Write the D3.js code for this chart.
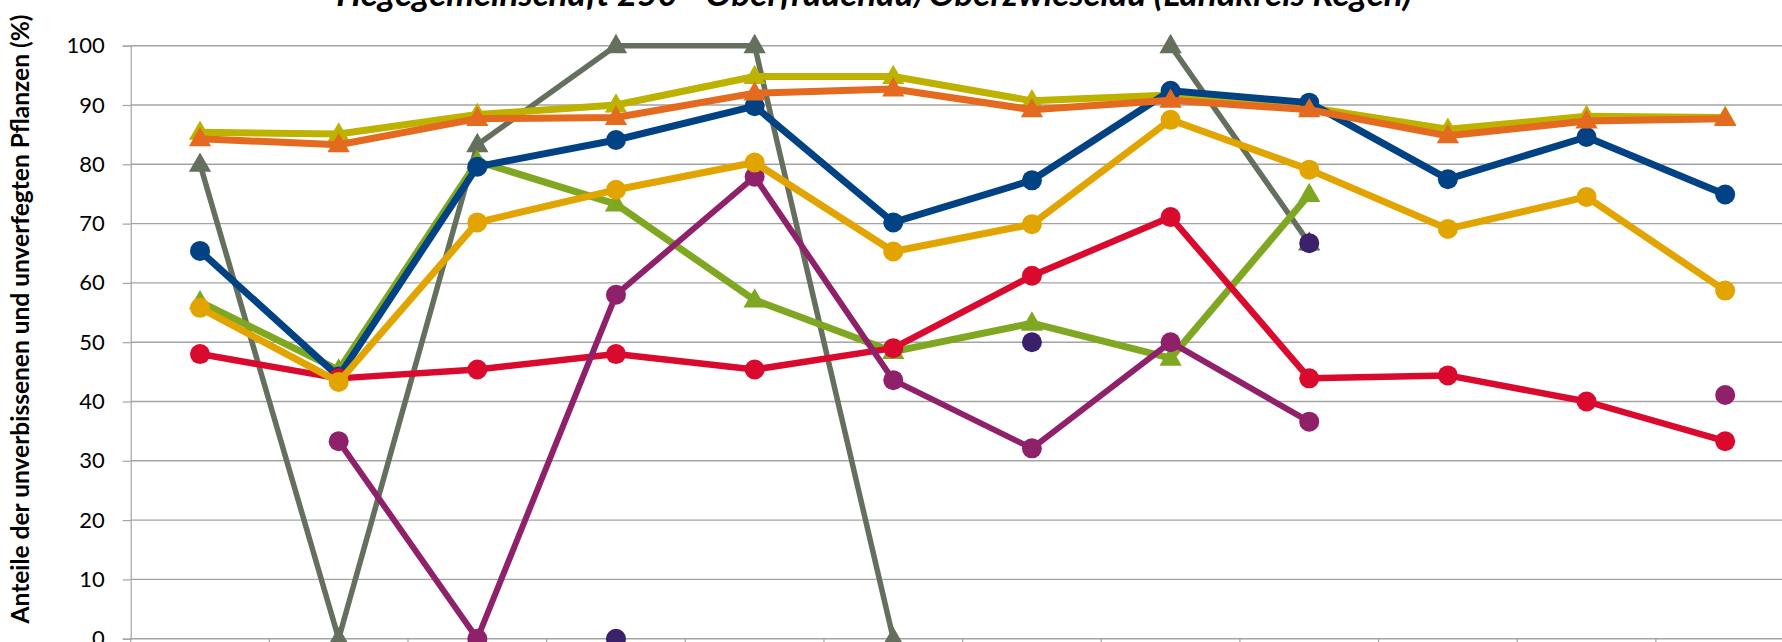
<!DOCTYPE html>
<html lang="de">
<head>
<meta charset="UTF-8">
<title>Hegegemeinschaft 250 - Oberfrauenau/Oberzwieselau</title>
<script src="https://d3js.org/d3.v7.min.js"></script>
<style>
    body { margin: 0; background: #fff; overflow: hidden; }
    svg { display: block; }
    text { font-family: Lato, "Open Sans", sans-serif; fill: #000; }
</style>
</head>
<body>
<div id="chart"></div>
<script>
    // Aufnahmejahre (Achsenbeschriftung liegt ausserhalb des Bildausschnitts)
    const years = ["1991", "1994", "1997", "2000", "2003", "2006", "2009", "2012", "2015", "2018", "2021", "2024"];
    const yTicks = [0, 10, 20, 30, 40, 50, 60, 70, 80, 90, 100];

    // Werte je Reihe in %, null = kein Wert
    const grauDreieck = [80, 0, 83.3, 100, 100, 0, null, 100, 66.7, null, null, null];
    const olivDreieck = [85.4, 85.1, 88.4, 90, 94.8, 94.8, 90.7, 91.7, 89.6, 85.9, 88.1, 87.9];
    const gruenDreieck = [56.8, 45.3, 80.5, 73.3, 57.1, 48.4, 53.2, 47.3, 74.9, null, null, null];
    const blauKreis = [65.4, 44.2, 79.6, 84.1, 89.8, 70.2, 77.3, 92.4, 90.4, 77.5, 84.6, 74.9];
    const orangeDreieck = [84.3, 83.3, 87.7, 87.9, 92, 92.7, 89.2, 90.8, 89.2, 84.8, 87.3, 87.7];
    const rotKreis = [48, 43.9, 45.4, 48, 45.4, 49, 61.2, 71.1, 43.9, 44.4, 40, 33.3];
    const violettKreis = [null, 33.3, 0, 58, 77.9, 43.6, 32.1, 50, 36.6, null, null, 41.1];
    const dunkelviolettKreis = [null, null, null, 0, null, null, 50, null, 66.7, null, null, null];
    const goldKreis = [55.8, 43.3, 70.2, 75.7, 80.3, 65.3, 69.9, 87.5, 79.1, 69.1, 74.5, 58.7];

    // Zeichenreihenfolge: spaetere liegen oben
    const series = [
        { values: grauDreieck, color: "#656f5d", marker: "triangle", width: 5.5 },
        { values: olivDreieck, color: "#bdb200", marker: "triangle", width: 7 },
        { values: gruenDreieck, color: "#80a721", marker: "triangle", width: 7 },
        { values: blauKreis, color: "#004283", marker: "circle", width: 7 },
        { values: orangeDreieck, color: "#e36a1f", marker: "triangle", width: 7 },
        { values: rotKreis, color: "#da0a2f", marker: "circle", width: 6.5 },
        { values: violettKreis, color: "#8f216a", marker: "circle", width: 6 },
        { values: dunkelviolettKreis, color: "#3b2169", marker: "circle", width: 6 },
        { values: goldKreis, color: "#e2a400", marker: "circle", width: 7 }
    ];

    const width = 1782;
    const height = 642;
    const plotLeft = 130.7;
    const plotRight = 1794.5; // Diagrammflaeche reicht ueber den Rand hinaus

    const svg = d3.select("#chart")
        .append("svg")
        .attr("width", width)
        .attr("height", height);

    const x = d3.scaleBand()
        .domain(years)
        .range([plotLeft, plotRight]);

    const y = d3.scaleLinear()
        .domain([0, 100])
        .range([638.7, 45.7]);

    const cx = d => x(d) + x.bandwidth() / 2;

    // Gitternetzlinien
    svg.append("g")
        .selectAll("line")
        .data(yTicks)
        .enter()
        .append("line")
        .attr("x1", plotLeft)
        .attr("x2", width)
        .attr("y1", d => y(d))
        .attr("y2", d => y(d))
        .attr("stroke", "#a3a3a3")
        .attr("stroke-width", 1.4);

    // Kategorie-Teilstriche an der x-Achse
    svg.append("g")
        .selectAll("line")
        .data(years)
        .enter()
        .append("line")
        .attr("x1", d => x(d))
        .attr("x2", d => x(d))
        .attr("y1", y(0))
        .attr("y2", y(0) + 8)
        .attr("stroke", "#a3a3a3")
        .attr("stroke-width", 1.2);

    // y-Achse
    const yAxis = svg.append("g")
        .attr("transform", `translate(${plotLeft},0)`)
        .call(d3.axisLeft(y).tickValues(yTicks).tickSize(8).tickPadding(18));

    yAxis.select(".domain").attr("stroke", "#a3a3a3").attr("stroke-width", 1.2);
    yAxis.selectAll(".tick line").attr("stroke", "#a3a3a3").attr("stroke-width", 1.2);
    yAxis.selectAll(".tick text")
        .attr("font-size", 22)
        .attr("font-family", "Lato, sans-serif")
        .attr("fill", "#111");

    // Linien und Markierungen
    const line = d3.line()
        .defined(d => d.v != null)
        .x(d => cx(d.year))
        .y(d => y(d.v));

    const triangle = d3.symbol(d3.symbolTriangle, 215);

    series.forEach(s => {
        const pts = years.map((year, i) => ({ year: year, v: s.values[i] }));
        const g = svg.append("g");

        g.append("path")
            .datum(pts)
            .attr("d", line)
            .attr("fill", "none")
            .attr("stroke", s.color)
            .attr("stroke-width", s.width)
            .attr("stroke-linejoin", "round");

        const valid = pts.filter(d => d.v != null);
        if (s.marker === "circle") {
            g.selectAll("circle")
                .data(valid)
                .enter()
                .append("circle")
                .attr("cx", d => cx(d.year))
                .attr("cy", d => y(d.v))
                .attr("r", 10)
                .attr("fill", s.color);
        } else {
            g.selectAll("path.m")
                .data(valid)
                .enter()
                .append("path")
                .attr("class", "m")
                .attr("d", triangle)
                .attr("transform", d => `translate(${cx(d.year)},${y(d.v) + 1})`)
                .attr("fill", s.color);
        }
    });

    // Titel (oben angeschnitten)
    svg.append("text")
        .attr("x", 874)
        .attr("y", 6)
        .attr("text-anchor", "middle")
        .attr("font-size", 35)
        .attr("font-weight", "bold")
        .attr("font-style", "italic")
        .text("Hegegemeinschaft 250 - Oberfrauenau/Oberzwieselau (Landkreis Regen)");

    // y-Achsentitel
    svg.append("text")
        .attr("transform", "translate(29,319) rotate(-90)")
        .attr("text-anchor", "middle")
        .attr("font-size", 24.5)
        .attr("font-weight", "bold")
        .text("Anteile der unverbissenen und unverfegten Pflanzen (%)");
</script>
</body>
</html>
